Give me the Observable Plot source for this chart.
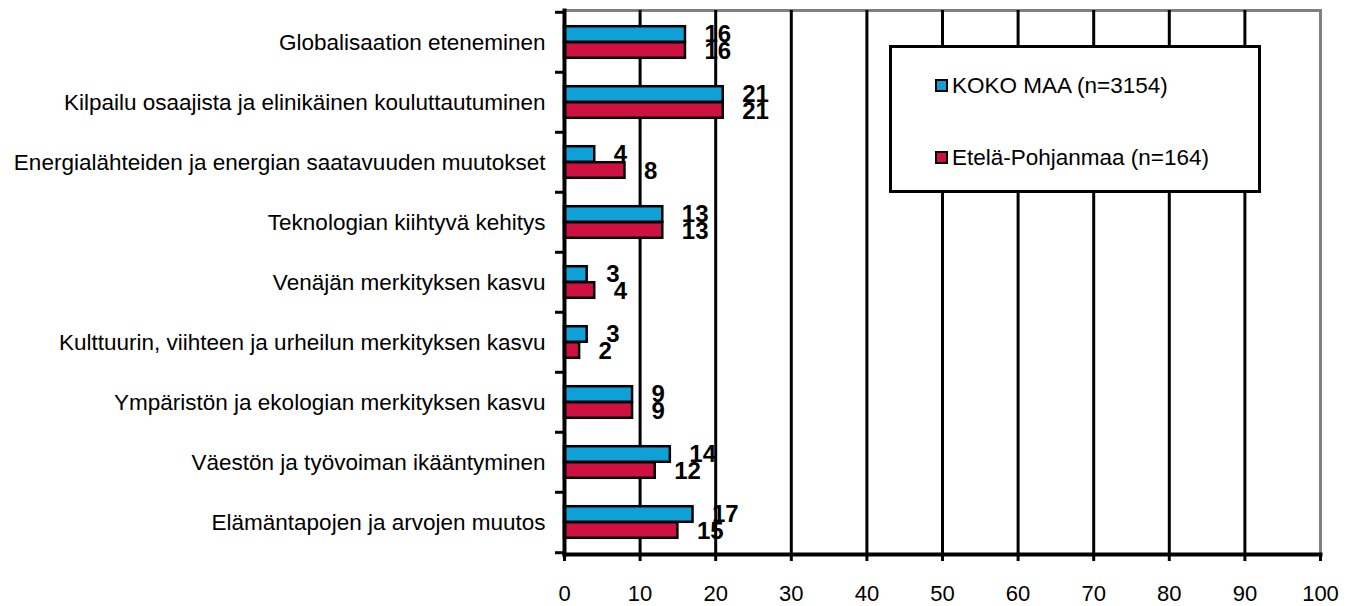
<!DOCTYPE html>
<html>
<head>
<meta charset="utf-8">
<script src="https://cdn.jsdelivr.net/npm/d3@7"></script>
<script src="https://cdn.jsdelivr.net/npm/@observablehq/plot@0.6"></script>
<style>
  html, body { margin: 0; padding: 0; background: #fff; }
  #wrap { position: relative; width: 1356px; height: 606px; font-family: "Liberation Sans", Arial, sans-serif; }
  #legend { position: absolute; left: 889px; top: 45px; width: 372px; height: 148px; box-sizing: border-box;
            border: 3px solid #000; background: #fff; }
  .entry { position: absolute; left: 43px; display: flex; align-items: center; font-size: 22.5px; line-height: 23px; color: #000; white-space: nowrap; }
  .sw { width: 9px; height: 9px; border: 2px solid #000; margin-right: 4px; }
</style>
</head>
<body>
<div id="wrap"></div>
<script>
const categories = [
  "Globalisaation eteneminen",
  "Kilpailu osaajista ja elinikäinen kouluttautuminen",
  "Energialähteiden ja energian saatavuuden muutokset",
  "Teknologian kiihtyvä kehitys",
  "Venäjän merkityksen kasvu",
  "Kulttuurin, viihteen ja urheilun merkityksen kasvu",
  "Ympäristön ja ekologian merkityksen kasvu",
  "Väestön ja työvoiman ikääntyminen",
  "Elämäntapojen ja arvojen muutos"
];
const kokoMaa = [16, 21, 4, 13, 3, 3, 9, 14, 17];
const etelaPohjanmaa = [16, 21, 8, 13, 4, 2, 9, 12, 15];
const seriesNames = ["KOKO MAA (n=3154)", "Etelä-Pohjanmaa (n=164)"];
const seriesColors = ["#10A0D8", "#CE1141"];
const xTicks = [0, 10, 20, 30, 40, 50, 60, 70, 80, 90, 100];

const rowsA = categories.map((c, i) => ({category: c, series: seriesNames[0], value: kokoMaa[i]}));
const rowsB = categories.map((c, i) => ({category: c, series: seriesNames[1], value: etelaPohjanmaa[i]}));

const W = 1356, H = 606, mT = 10, mB = 52, mL = 564, mR = 36;
const bw = (H - mT - mB) / categories.length;
const half = bw / 2;
const barH = 16;

const chart = Plot.plot({
  width: W, height: H,
  marginTop: mT, marginBottom: mB, marginLeft: mL, marginRight: mR,
  style: {fontFamily: '"Liberation Sans", Arial, sans-serif', background: "#fff", color: "#000"},
  x: {domain: [0, 100], label: null},
  y: {domain: categories, padding: 0, label: null},
  marks: [
    Plot.frame({stroke: "#808080", strokeWidth: 3}),
    Plot.ruleX(xTicks.filter(d => d > 0 && d < 100), {stroke: "#000", strokeWidth: 3}),
    Plot.barX(rowsA, {x: "value", y: "category", fill: seriesColors[0], stroke: "#000", strokeWidth: 2.5,
      insetTop: half - barH, insetBottom: half}),
    Plot.barX(rowsB, {x: "value", y: "category", fill: seriesColors[1], stroke: "#000", strokeWidth: 2.5,
      insetTop: half, insetBottom: half - barH}),
    Plot.frame({anchor: "left", stroke: "#000", strokeWidth: 4}),
    Plot.frame({anchor: "bottom", stroke: "#000", strokeWidth: 4}),
    Plot.ruleY(categories, {y: d => d, x1: 0, x2: 0, insetLeft: -9, dy: -half, stroke: "#000", strokeWidth: 3}),
    Plot.ruleY(categories.slice(-1), {y: d => d, x1: 0, x2: 0, insetLeft: -9, dy: half, stroke: "#000", strokeWidth: 3}),
    Plot.text(rowsA, {x: "value", y: "category", text: d => String(d.value), dx: 19, dy: -8,
      textAnchor: "start", fontSize: 24, fontWeight: "bold", fill: "#000"}),
    Plot.text(rowsB, {x: "value", y: "category", text: d => String(d.value), dx: 19, dy: 9,
      textAnchor: "start", fontSize: 24, fontWeight: "bold", fill: "#000"}),
    Plot.axisY({tickSize: 0, tickPadding: 19, fontSize: 22.5, label: null}),
    Plot.axisX({ticks: xTicks, tickSize: 7, tickPadding: 24, fontSize: 22, label: null, strokeWidth: 3})
  ]
});

const wrap = document.getElementById("wrap");
wrap.appendChild(chart);

const legend = document.createElement("div");
legend.id = "legend";
seriesNames.forEach((name, i) => {
  const e = document.createElement("div");
  e.className = "entry";
  e.style.top = (i === 0 ? 26 : 98) + "px";
  const sw = document.createElement("div");
  sw.className = "sw";
  sw.style.background = seriesColors[i];
  const t = document.createElement("span");
  t.textContent = name;
  e.appendChild(sw);
  e.appendChild(t);
  legend.appendChild(e);
});
wrap.appendChild(legend);
</script>
</body>
</html>
